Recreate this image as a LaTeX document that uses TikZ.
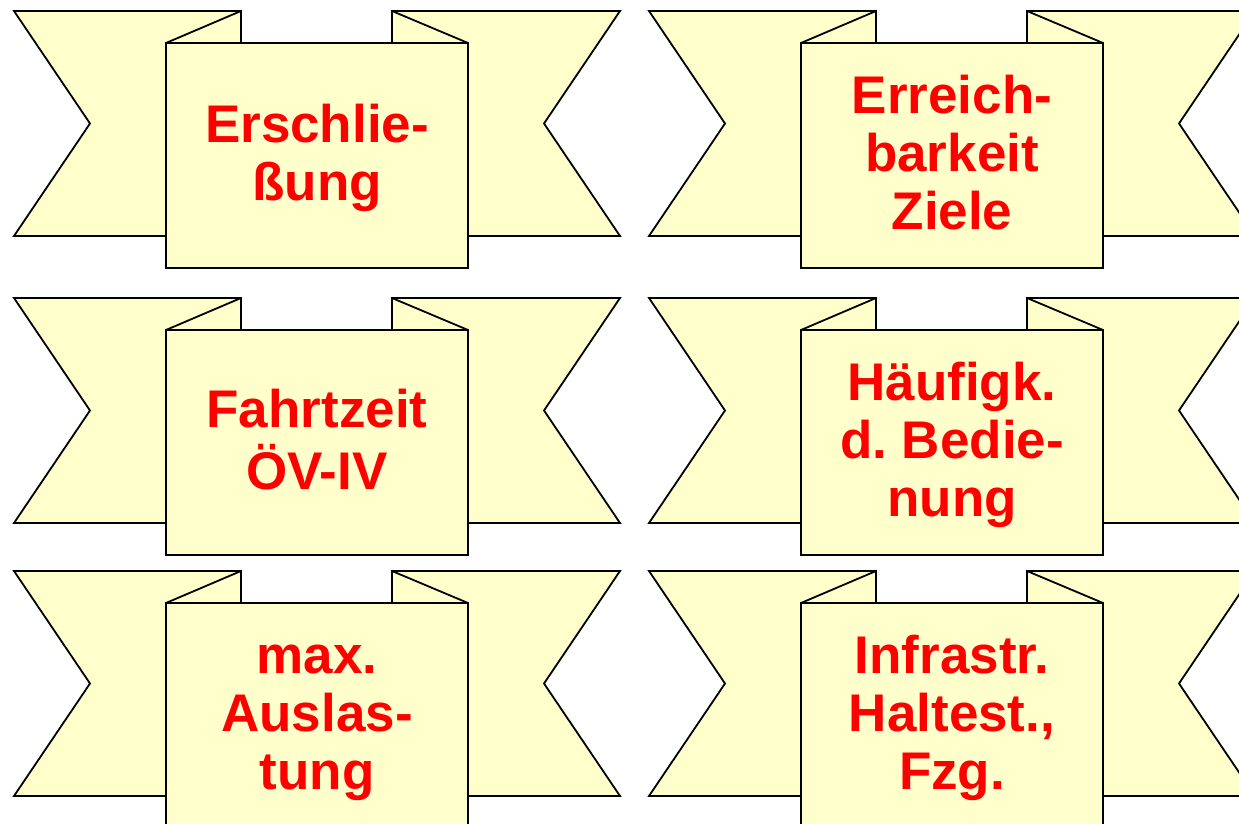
\documentclass[tikz,border=0pt]{standalone}
\usepackage{fontspec}
\setmainfont{Liberation Sans}
\frenchspacing
\definecolor{ribbonfill}{RGB}{255,255,204}
\tikzset{
  band/.style={draw=black, fill=ribbonfill, line width=1.8pt, line join=miter},
  foldline/.style={draw=black, line width=1.8pt},
  front/.style={band, minimum width=302pt, minimum height=225pt, inner sep=0pt},
  ribbontext/.style={inner sep=0pt, text=red, font=\fontsize{53}{58}\selectfont\bfseries}
}
\newcommand\myribbon[4]{%
  \begin{scope}[shift={(#1,#2)}]
    \draw[band] (0,0) -- (227,0) -- (227,-225) -- (0,-225) -- (76,-112.5) -- cycle;
    \draw[band] (378,0) -- (606,0) -- (530,-112.5) -- (606,-225) -- (378,-225) -- cycle;
    \draw[foldline] (227,0) -- (152,-32);
    \draw[foldline] (378,0) -- (454,-32);
    \node[front] (#3) at (303,-144.5) {};
    \node[ribbontext] (#3t) at ([yshift=-4.5pt]#3.center)
      {\begin{tabular}{@{}c@{}}#4\end{tabular}};
  \end{scope}}
\begin{document}
\begin{tikzpicture}[x=1pt,y=1pt]
  \useasboundingbox (0,0) rectangle (1239,-824);
  \clip (0,0) rectangle (1239,-824);
  \myribbon{14}{-11}{r1}{Erschlie-\\ßung}
  \myribbon{649}{-11}{r2}{Erreich-\\barkeit\\Ziele}
  \myribbon{14}{-298}{r3}{Fahrtzeit\\ÖV-IV}
  \myribbon{649}{-298}{r4}{Häufigk.\\d. Bedie-\\nung}
  \myribbon{14}{-571}{r5}{max.\\Auslas-\\tung}
  \myribbon{649}{-571}{r6}{Infrastr.\\Haltest.,\\Fzg.}
\end{tikzpicture}
\end{document}
